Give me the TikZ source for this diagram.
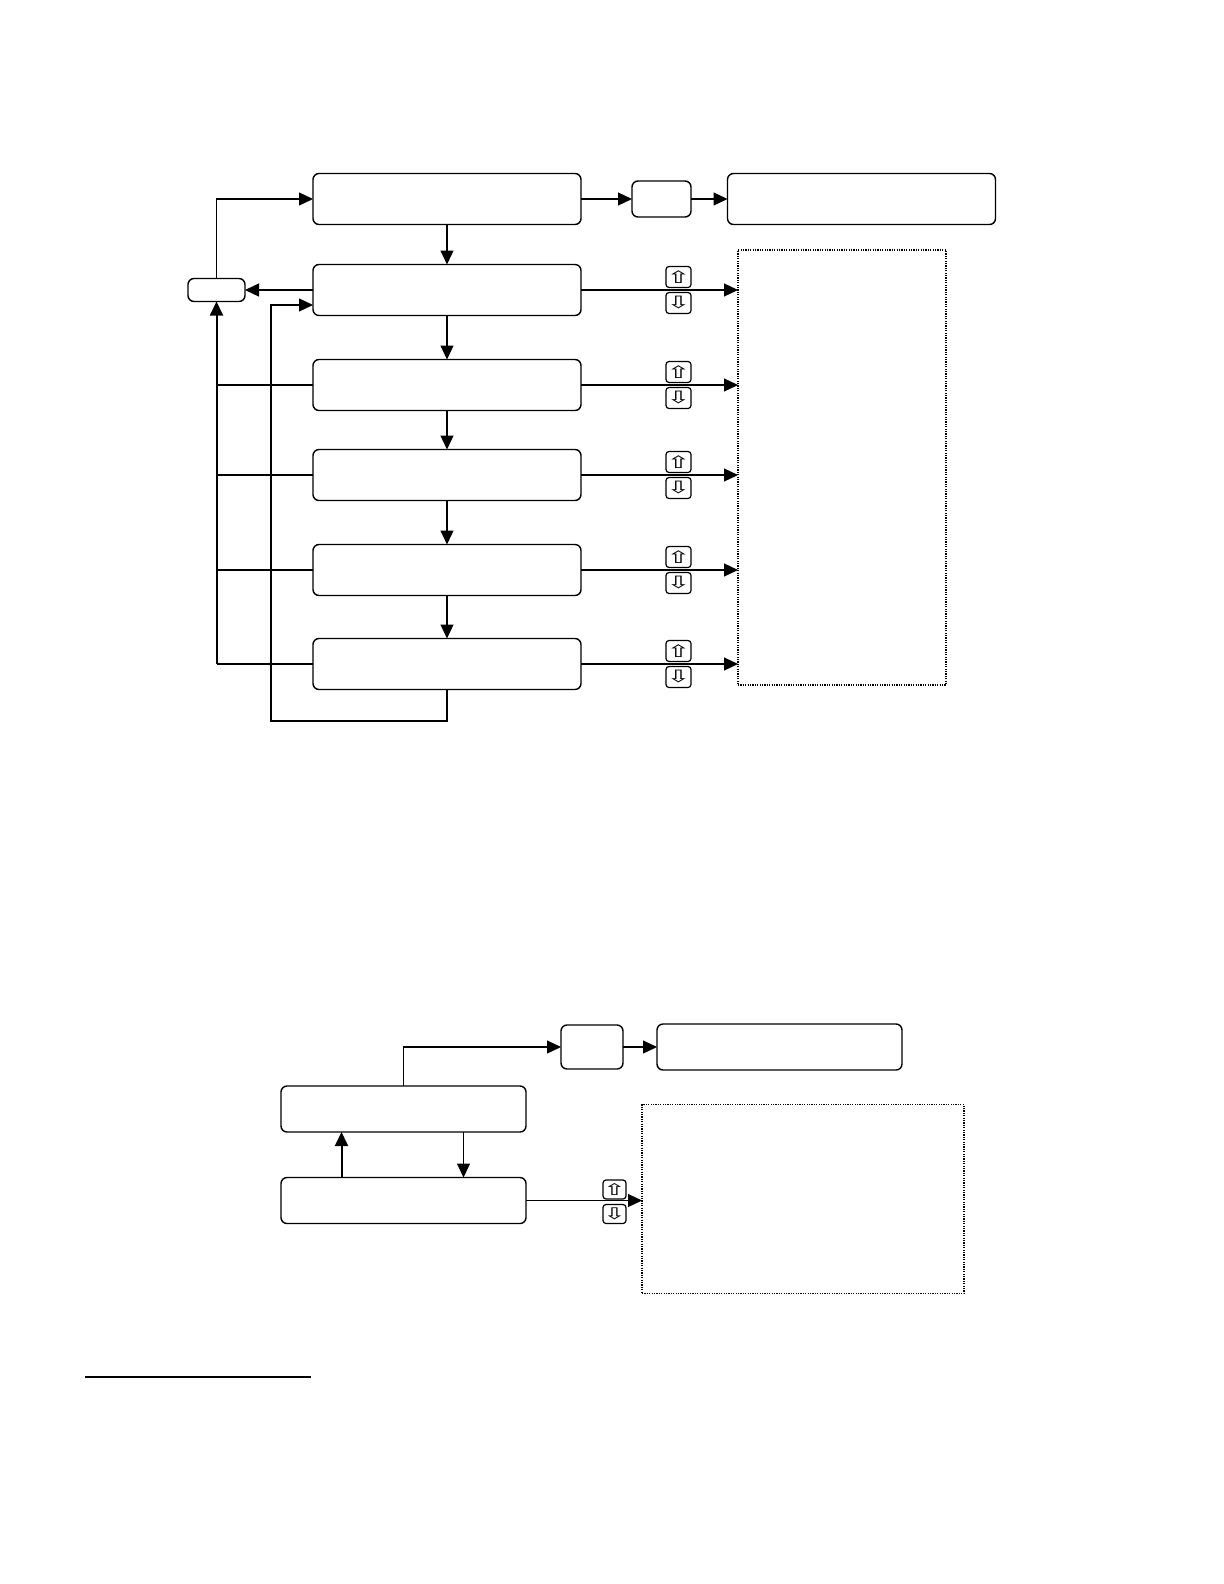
\documentclass[tikz,border=0pt]{standalone}
\usepackage{fontspec}
\newfontfamily\keyfont{DejaVu Sans}
\usetikzlibrary{arrows.meta}
\newcommand\widekey[1]{\scalebox{1.7}[1]{#1}}
\tikzset{
    stepbox/.style={draw,rounded corners=3pt,line width=0.7pt,minimum width=134pt,minimum height=25.5pt,inner sep=0pt,outer sep=0pt},
    menubox/.style={stepbox,minimum width=122.5pt,minimum height=23pt},
    smallbox/.style={draw,rounded corners=3pt,line width=0.7pt,inner sep=0pt,outer sep=0pt},
    keybox/.style={draw,rounded corners=1.5pt,line width=0.6pt,minimum width=12.5pt,minimum height=10.5pt,inner sep=0pt,font=\keyfont\fontsize{8.5}{8.5}\selectfont},
    listbox/.style={draw,line width=0.6pt,dash pattern=on 0.6pt off 0.6pt,inner sep=0pt,outer sep=0pt},
    link/.style={line width=0.6pt,-{Triangle[length=7pt,width=6.5pt]}},
    plain/.style={line width=0.6pt},
}
\begin{document}
\begin{tikzpicture}[x=0.5pt,y=-0.5pt]
        \useasboundingbox (0,0) rectangle (1224,1584);
        % upper menu
        \node[stepbox] (prog) at (447,199) {};
        \node[smallbox,minimum width=29.5pt,minimum height=18pt] (sel) at (661.5,199) {};
        \node[stepbox] (done) at (861.5,199) {};
        \node[smallbox,minimum width=28.5pt,minimum height=11.5pt] (esc) at (216.5,290) {};
        \node[listbox,minimum width=104pt,minimum height=217.5pt] (list) at (842,467.5) {};
        \foreach \i/\y in {1/290,2/385,3/475,4/570,5/664} {
            \node[stepbox] (r\i) at (447,\y) {};
            \node[keybox] (up\i) at (678.5,\y-13) {\widekey{⇧}};
            \node[keybox] (dn\i) at (678.5,\y+13) {\widekey{⇩}};
            \draw[link] (r\i.east) -- (r\i.east -| list.west);
        }
        \draw[link] (prog.east) -- (sel.west);
        \draw[link] (sel.east) -- (done.west);
        \draw[link] (esc.north) |- (prog.west);
        \draw[link] (prog.south) -- (r1.north);
        \foreach \a/\b in {1/2,2/3,3/4,4/5}
            \draw[link] (r\a.south) -- (r\b.north);
        \draw[link] (r1.west) -- (esc.east);
        \foreach \i in {2,3,4,5}
            \draw[plain] (r\i.west) -- (r\i.west -| esc.south);
        \draw[link,line width=1pt] (r5.west -| esc.south) -- (esc.south);
        \coordinate (loop) at (271,721);
        \coordinate (back) at (313,305);
        \draw[link] (r5.south) |- (loop) |- (back);
        % lower menu
        \node[menubox] (menu) at (403.5,1109) {};
        \node[menubox] (set) at (403.5,1200.5) {};
        \node[smallbox,minimum width=31pt,minimum height=22pt] (ok) at (592,1047) {};
        \node[menubox] (done2) at (779.5,1047) {};
        \node[listbox,minimum width=161pt,minimum height=94.5pt] (list2) at (803,1199) {};
        \node[keybox,minimum width=11.5pt,minimum height=9.5pt,font=\keyfont\fontsize{8}{8}\selectfont] (up6) at (614.5,1189.5) {\widekey{⇧}};
        \node[keybox,minimum width=11.5pt,minimum height=9.5pt,font=\keyfont\fontsize{8}{8}\selectfont] (dn6) at (614.5,1214) {\widekey{⇩}};
        \draw[link] (menu.north) |- (ok.west);
        \draw[link] (ok.east) -- (done2.west);
        \draw[link,line width=1pt] ([xshift=-31pt]set.north) -- ([xshift=-31pt]menu.south);
        \draw[link] ([xshift=30pt]menu.south) -- ([xshift=30pt]set.north);
        \draw[link] (set.east) -- (set.east -| list2.west);
        \draw[line width=1pt] (85,1377) -- (311,1377);
    \end{tikzpicture}
\end{document}
